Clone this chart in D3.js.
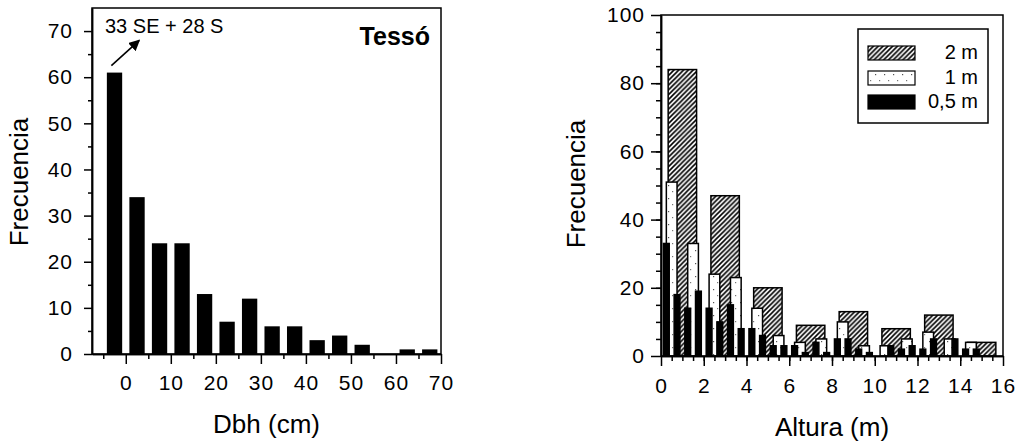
<!DOCTYPE html>
<html>
<head>
<meta charset="utf-8">
<script src="https://cdn.jsdelivr.net/npm/d3@7"></script>
<style>
body{margin:0;background:#fff;}
svg{display:block;font-family:"Liberation Sans",Arial,sans-serif;}
.axis text{font-size:21px;letter-spacing:1px;fill:#000;}
.axis line,.axis path{stroke:#000;stroke-width:1.5;}
</style>
</head>
<body>
<div id="plot"></div>
<script>
/* data */
var dbhMid = [-2.5,2.5,7.5,12.5,17.5,22.5,27.5,32.5,37.5,42.5,47.5,52.5,57.5,62.5,67.5];
var dbhFreq = [61,34,24,24,13,7,12,6,6,3,4,2,0,1,1];
var dbhTicks = [0,10,20,30,40,50,60,70];
var dbhMinor = [-5,5,15,25,35,45,55,65];
var freqTicksL = [0,10,20,30,40,50,60,70];

var h2Mid = [1,3,5,7,9,11,13,15];
var h2Freq = [84,47,20,9,13,8,12,4];
var h1Mid = [0.5,1.5,2.5,3.5,4.5,5.5,6.5,7.5,8.5,9.5,10.5,11.5,12.5,13.5,14.5,15.5];
var h1Freq = [51,33,24,23,14,6,4,5,10,3,3,5,7,5,4,0];
var h05Mid = [0.25,0.75,1.25,1.75,2.25,2.75,3.25,3.75,4.25,4.75,5.25,5.75,6.25,6.75,7.25,7.75,
              8.25,8.75,9.25,9.75,10.25,10.75,11.25,11.75,12.25,12.75,13.25,13.75,14.25,14.75,15.25,15.75];
var h05Freq = [33,18,14,19,14,10,15,8,8,6,3,3,3,1,4,1,5,5,2,1,0,3,2,3,2,5,0,5,2,2,0,0];
var alturaTicks = [0,2,4,6,8,10,12,14,16];
var freqTicksR = [0,20,40,60,80,100];
var legendLabels = ["2 m","1 m","0,5 m"];

var svg = d3.select('#plot').append('svg')
    .attr('width',1024)
    .attr('height',447);

var defs = svg.append('defs');
var hatch = defs.append('pattern')
    .attr('id','hatch')
    .attr('patternUnits','userSpaceOnUse')
    .attr('width',4.8).attr('height',4.8);
hatch.append('rect').attr('width',4.8).attr('height',4.8).attr('fill','#fff');
hatch.append('path')
    .attr('d','M-1,1 l2,-2 M0,4.8 l4.8,-4.8 M3.8,5.8 l2,-2')
    .attr('stroke','#000').attr('stroke-width',1.6);
var dots = defs.append('pattern')
    .attr('id','dots')
    .attr('patternUnits','userSpaceOnUse')
    .attr('width',9).attr('height',13);
dots.append('rect').attr('width',9).attr('height',13).attr('fill','#fff');
dots.append('rect').attr('x',2).attr('y',3).attr('width',1.2).attr('height',1.2).attr('fill','#555');
dots.append('rect').attr('x',6).attr('y',9).attr('width',1.2).attr('height',1.2).attr('fill','#777');

defs.append('marker')
    .attr('id','arrow')
    .attr('viewBox','0 0 10 10')
    .attr('refX',9).attr('refY',5)
    .attr('markerWidth',7).attr('markerHeight',7)
    .attr('orient','auto')
    .append('path').attr('d','M0,0 L10,5 L0,10 z').attr('fill','#000');

/* ---------- left panel: Dbh ---------- */
var L = {l:92,t:8,r:441,b:354};
var xL = d3.scaleLinear().domain([-7.5,70]).range([L.l,L.r]);
var yL = d3.scaleLinear().domain([0,75]).range([L.b,L.t]);

var left = svg.append('g');

left.selectAll('.dbh')
    .data(dbhMid)
    .enter()
    .append('rect')
    .attr('class','dbh')
    .attr('x',function(d){return xL(d-1.7)})
    .attr('width',function(d){return xL(d+1.7)-xL(d-1.7)})
    .attr('y',function(d,i){return yL(dbhFreq[i])})
    .attr('height',function(d,i){return yL(0)-yL(dbhFreq[i])})
    .attr('fill','#000');

left.append('g').attr('class','axis')
    .attr('transform','translate(0,'+L.b+')')
    .call(d3.axisBottom(xL).tickValues(dbhMinor).tickFormat('').tickSize(5).tickSizeOuter(0));
left.append('g').attr('class','axis')
    .attr('transform','translate(0,'+L.b+')')
    .call(d3.axisBottom(xL).tickValues(dbhTicks).tickSize(10).tickPadding(11).tickSizeOuter(0));
left.append('g').attr('class','axis')
    .attr('transform','translate('+L.l+',0)')
    .call(d3.axisLeft(yL).tickValues(d3.range(5,75,10)).tickFormat('').tickSize(4).tickSizeOuter(0));
left.append('g').attr('class','axis')
    .attr('transform','translate('+L.l+',0)')
    .call(d3.axisLeft(yL).tickValues(freqTicksL).tickSize(8).tickPadding(11).tickSizeOuter(0));

left.append('rect')
    .attr('x',L.l).attr('y',L.t)
    .attr('width',L.r-L.l).attr('height',L.b-L.t)
    .attr('fill','none').attr('stroke','#000').attr('stroke-width',1.5);

left.append('text')
    .attr('x',105).attr('y',33)
    .style('font-size','20px')
    .text('33 SE + 28 S');
left.append('line')
    .attr('x1',xL(-3.2)).attr('y1',yL(62.5))
    .attr('x2',xL(3)).attr('y2',yL(68))
    .attr('stroke','#000').attr('stroke-width',1.6)
    .attr('marker-end','url(#arrow)');
left.append('text')
    .attr('x',430).attr('y',45)
    .attr('text-anchor','end')
    .style('font-size','25px').style('font-weight','bold')
    .text('Tessó');

left.append('text')
    .attr('transform','translate(28,182) rotate(-90)')
    .attr('text-anchor','middle')
    .style('font-size','26px')
    .text('Frecuencia');
left.append('text')
    .attr('x',(L.l+L.r)/2).attr('y',433)
    .attr('text-anchor','middle')
    .style('font-size','26px')
    .text('Dbh (cm)');

/* ---------- right panel: Altura ---------- */
var R = {l:661,t:15,r:1003,b:356};
var xR = d3.scaleLinear().domain([0,16]).range([R.l,R.r]);
var yR = d3.scaleLinear().domain([0,100]).range([R.b,R.t]);

var right = svg.append('g');

function bars(cls,mids,vals,half,fill){
    right.selectAll('.'+cls)
        .data(mids)
        .enter()
        .append('rect')
        .attr('class',cls)
        .attr('x',function(d){return xR(d-half)})
        .attr('width',function(d){return xR(d+half)-xR(d-half)})
        .attr('y',function(d,i){return yR(vals[i])})
        .attr('height',function(d,i){return yR(0)-yR(vals[i])})
        .attr('fill',fill)
        .attr('stroke','#000')
        .attr('stroke-width',function(d,i){return vals[i]>0?1.5:0});
}
bars('b2',h2Mid,h2Freq,0.665,'url(#hatch)');
bars('b1',h1Mid,h1Freq,0.25,'url(#dots)');
bars('b05',h05Mid,h05Freq,0.135,'#000');

right.append('g').attr('class','axis')
    .attr('transform','translate(0,'+R.b+')')
    .call(d3.axisBottom(xR).tickValues(d3.range(0.5,16,0.5)).tickFormat('').tickSize(5).tickSizeOuter(0));
right.append('g').attr('class','axis')
    .attr('transform','translate(0,'+R.b+')')
    .call(d3.axisBottom(xR).tickValues(alturaTicks).tickSize(10).tickPadding(12).tickSizeOuter(0));
right.append('g').attr('class','axis')
    .attr('transform','translate('+R.l+',0)')
    .call(d3.axisLeft(yR).tickValues(d3.range(5,100,5)).tickFormat('').tickSize(5).tickSizeOuter(0));
right.append('g').attr('class','axis')
    .attr('transform','translate('+R.l+',0)')
    .call(d3.axisLeft(yR).tickValues(freqTicksR).tickSize(10).tickPadding(6).tickSizeOuter(0));

right.append('rect')
    .attr('x',R.l).attr('y',R.t)
    .attr('width',R.r-R.l).attr('height',R.b-R.t)
    .attr('fill','none').attr('stroke','#000').attr('stroke-width',1.5);

/* legend */
var leg = right.append('g');
leg.append('rect')
    .attr('x',858).attr('y',29).attr('width',130).attr('height',94)
    .attr('fill','#fff').attr('stroke','#000').attr('stroke-width',1.5);
var legFill = ['url(#hatch)','url(#dots)','#000'];
var legItem = leg.selectAll('.item')
    .data(legendLabels)
    .enter()
    .append('g')
    .attr('class','item')
    .attr('transform',function(d,i){return 'translate(0,'+[46,71,95][i]+')'});
legItem.append('rect')
    .attr('x',868).attr('width',47).attr('height',14)
    .attr('fill',function(d,i){return legFill[i]})
    .attr('stroke','#000').attr('stroke-width',1.2);
legItem.append('text')
    .attr('x',978).attr('y',12.5)
    .attr('text-anchor','end')
    .style('font-size','20px')
    .text(function(d){return d});

right.append('text')
    .attr('transform','translate(585,184) rotate(-90)')
    .attr('text-anchor','middle')
    .style('font-size','26px')
    .text('Frecuencia');
right.append('text')
    .attr('x',(R.l+R.r)/2).attr('y',436)
    .attr('text-anchor','middle')
    .style('font-size','26px')
    .text('Altura (m)');
</script>
</body>
</html>
